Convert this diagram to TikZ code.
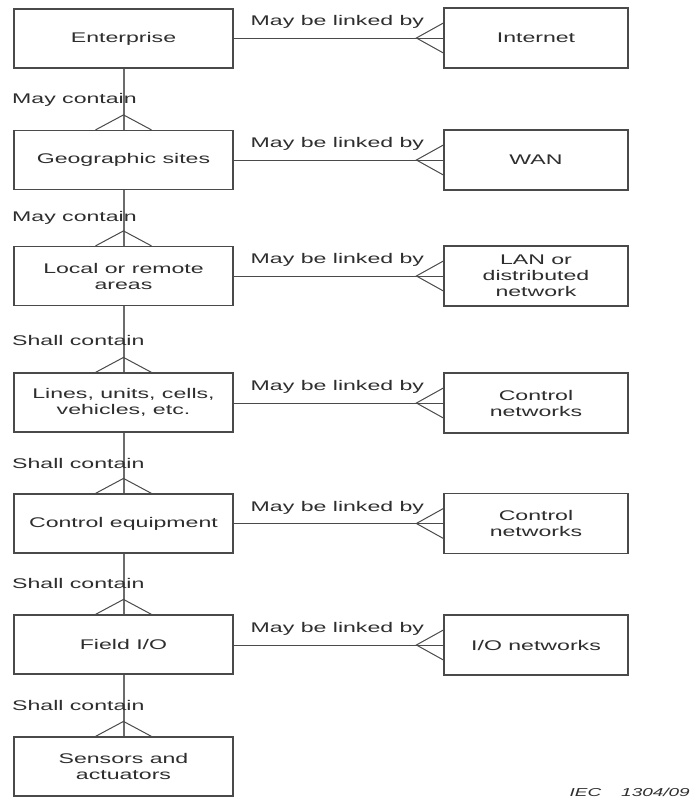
\documentclass[tikz,border=0pt]{standalone}
\usepackage{fontspec}
\setmainfont[FakeStretch=1.65]{Liberation Sans}
\definecolor{boxline}{HTML}{4A4A4A}
\definecolor{txt}{HTML}{2E2E2E}
\definecolor{spine}{HTML}{6C6C6C}
\begin{document}
\begin{tikzpicture}[x=1pt,y=-1pt,
  every node/.style={text=txt},
  level/.style={draw=boxline, line width=1.2pt, minimum width=219pt, minimum height=59pt,
    align=center, inner sep=0pt, font=\fontsize{14}{16}\selectfont},
  netbox/.style={draw=boxline, line width=1.2pt, minimum width=184pt, minimum height=60pt,
    align=center, inner sep=0pt, font=\fontsize{14}{16}\selectfont},
  relabel/.style={inner sep=0pt, font=\fontsize{14}{16}\selectfont},
  uplink/.style={draw=spine, line width=2pt},
  foot/.style={draw=boxline, line width=1pt},
  sidelink/.style={draw=boxline, line width=1pt}]
\useasboundingbox[fill=white] (0,0) rectangle (692,804);

% hierarchy levels
\node[level] (L1) at (123.5,38.5) {Enterprise};
\node[level] (L2) at (123.5,160) {Geographic sites};
\node[level] (L3) at (123.5,276) {Local or remote\\areas};
\node[level] (L4) at (123.5,402.5) {Lines, units, cells,\\vehicles, etc.};
\node[level] (L5) at (123.5,523.5) {Control equipment};
\node[level] (L6) at (123.5,644.5) {Field I/O};
\node[level] (L7) at (123.5,766.5) {Sensors and\\actuators};

% networks
\node[netbox] (R1) at (536,38) {Internet};
\node[netbox] (R2) at (536,160) {WAN};
\node[netbox] (R3) at (536,276) {LAN or\\distributed\\network};
\node[netbox] (R4) at (536,403) {Control\\networks};
\node[netbox] (R5) at (536,523.5) {Control\\networks};
\node[netbox] (R6) at (536,645) {I/O networks};

% containment links with crow's feet
\foreach \a/\b in {L1/L2,L2/L3,L3/L4,L4/L5,L5/L6,L6/L7}{
  \draw[uplink] (\a.south) -- (\b.north);
  \draw[foot] ([xshift=-28pt]\b.north) -- ([yshift=15pt]\b.north) -- ([xshift=28pt]\b.north);
}

% network links with crow's feet
\foreach \a/\b in {L1/R1,L2/R2,L3/R3,L4/R4,L5/R5,L6/R6}{
  \draw[sidelink] (\a.east |- \b.west) -- (\b.west);
  \draw[foot] ([yshift=15pt]\b.west) -- ([xshift=-27pt]\b.west) -- ([yshift=-15pt]\b.west);
  \node[relabel] at ([xshift=-106pt,yshift=16pt]\b.west) {May be linked by};
}

% containment labels
\node[relabel, anchor=west] (c1) at (12,100) {May contain};
\node[relabel, anchor=west] (c2) at (12,218) {May contain};
\node[relabel, anchor=west] (c3) at (12,340) {Shall contain};
\node[relabel, anchor=west] (c4) at (12,463) {Shall contain};
\node[relabel, anchor=west] (c5) at (12,583) {Shall contain};
\node[relabel, anchor=west] (c6) at (12,705) {Shall contain};

% figure reference
\node[inner sep=0pt, anchor=east, font=\fontsize{11.5}{13}\selectfont\itshape] (ref) at (690,792) {IEC\hspace{20pt}1304/09};
\end{tikzpicture}
\end{document}
